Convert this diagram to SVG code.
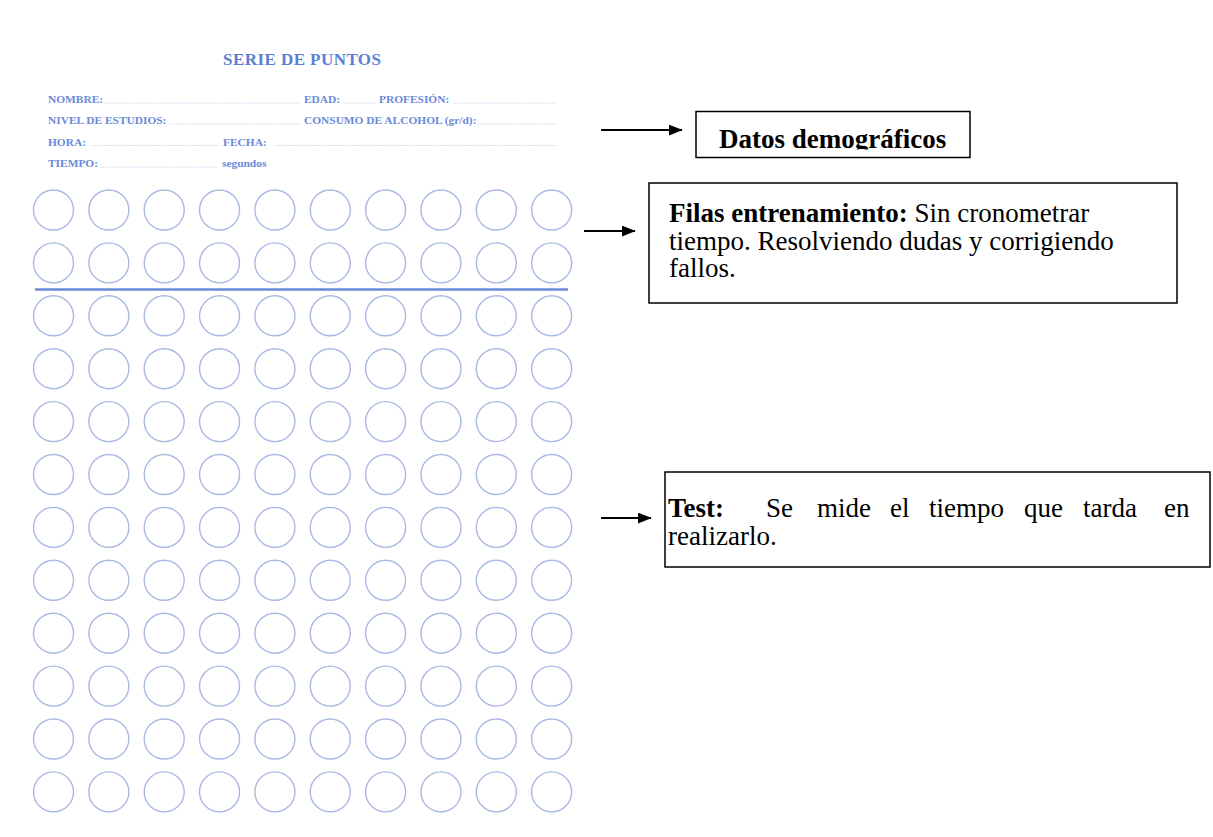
<svg xmlns="http://www.w3.org/2000/svg" xmlns:xlink="http://www.w3.org/1999/xlink" width="1213" height="837" viewBox="0 0 1213 837">
  <style>
    .title { font-family: "Liberation Serif", "Times New Roman", serif; font-weight: bold; font-size: 17px; fill: #5b7fd4; }
    .field { font-family: "Liberation Serif", "Times New Roman", serif; font-weight: bold; font-size: 11.4px; fill: #6a8ad8; }
    .leader { stroke: #b4c0e2; stroke-width: 0.8; stroke-dasharray: 1 1.2; fill: none; }
    .dot { fill: none; stroke: #a9b9e4; stroke-width: 1.4; }
    .divider { stroke: #6a8ad8; stroke-width: 2.4; }
    .box { fill: #ffffff; stroke: #000000; stroke-width: 1.5; }
    .note { font-family: "Liberation Serif", "Times New Roman", serif; font-size: 27px; fill: #000000; }
    .b { font-weight: bold; }
    .arrow { stroke: #000000; stroke-width: 2; fill: none; marker-end: url(#head); }
  </style>
  <defs>
    <marker id="head" viewBox="0 0 10 10" refX="9.5" refY="5" markerWidth="14" markerHeight="11" markerUnits="userSpaceOnUse" orient="auto" preserveAspectRatio="none">
      <path d="M0,0 L10,5 L0,10 Z" fill="#000000"/>
    </marker>
    <!-- one row of ten answer circles -->
    <g id="row">
      <circle class="dot" cx="53.5" cy="0" r="20"/>
      <circle class="dot" cx="108.85" cy="0" r="20"/>
      <circle class="dot" cx="164.2" cy="0" r="20"/>
      <circle class="dot" cx="219.55" cy="0" r="20"/>
      <circle class="dot" cx="274.9" cy="0" r="20"/>
      <circle class="dot" cx="330.25" cy="0" r="20"/>
      <circle class="dot" cx="385.6" cy="0" r="20"/>
      <circle class="dot" cx="440.95" cy="0" r="20"/>
      <circle class="dot" cx="496.3" cy="0" r="20"/>
      <circle class="dot" cx="551.65" cy="0" r="20"/>
    </g>
    <clipPath id="clip-demo">
      <rect x="697" y="112" width="272" height="37.5"/>
    </clipPath>
  </defs>

  <rect width="1213" height="837" fill="#ffffff"/>

  <!-- form header -->
  <g id="form">
    <text class="title" x="223" y="65" textLength="158" lengthAdjust="spacing">SERIE DE PUNTOS</text>

    <text class="field" x="48" y="103">NOMBRE:</text>
    <line class="leader" x1="105" y1="103" x2="301" y2="103"/>
    <text class="field" x="304" y="103">EDAD:</text>
    <line class="leader" x1="344" y1="103" x2="377" y2="103"/>
    <text class="field" x="379" y="103">PROFESIÓN:</text>
    <line class="leader" x1="453" y1="103" x2="557" y2="103"/>

    <text class="field" x="48" y="124">NIVEL DE ESTUDIOS:</text>
    <line class="leader" x1="170" y1="124" x2="302" y2="124"/>
    <text class="field" x="304" y="124">CONSUMO DE ALCOHOL (gr/d):</text>
    <line class="leader" x1="478" y1="124" x2="557" y2="124"/>

    <text class="field" x="48" y="145.5">HORA:</text>
    <line class="leader" x1="93" y1="145.5" x2="219" y2="145.5"/>
    <text class="field" x="223" y="145.5">FECHA:</text>
    <line class="leader" x1="275" y1="145.5" x2="557" y2="145.5"/>

    <text class="field" x="48" y="167">TIEMPO:</text>
    <line class="leader" x1="101" y1="167" x2="218" y2="167"/>
    <text class="field" x="222" y="167">segundos</text>
  </g>

  <!-- answer grid: two practice rows, divider, ten test rows -->
  <g id="grid">
    <use xlink:href="#row" y="210"/>
    <use xlink:href="#row" y="262.9"/>
    <line class="divider" x1="35" y1="289.5" x2="568" y2="289.5"/>
    <use xlink:href="#row" y="315.8"/>
    <use xlink:href="#row" y="368.7"/>
    <use xlink:href="#row" y="421.6"/>
    <use xlink:href="#row" y="474.5"/>
    <use xlink:href="#row" y="527.4"/>
    <use xlink:href="#row" y="580.3"/>
    <use xlink:href="#row" y="633.2"/>
    <use xlink:href="#row" y="686.1"/>
    <use xlink:href="#row" y="739"/>
    <use xlink:href="#row" y="791.9"/>
  </g>

  <g id="connectors">
    <line class="arrow" x1="601" y1="130" x2="682" y2="130"/>
    <line class="arrow" x1="584" y1="231" x2="635" y2="231"/>
    <line class="arrow" x1="601" y1="518" x2="651" y2="518"/>
  </g>

  <g id="demograficos">
    <rect class="box" x="696" y="111.5" width="274" height="46"/>
    <text class="note b" x="719" y="148" font-size="26" clip-path="url(#clip-demo)">Datos demográficos</text>
  </g>

  <g id="entrenamiento">
    <rect class="box" x="649" y="183" width="528" height="120"/>
    <text class="note" x="669" y="222"><tspan class="b">Filas entrenamiento:</tspan> Sin cronometrar</text>
    <text class="note" x="669" y="249.5">tiempo. Resolviendo dudas y corrigiendo</text>
    <text class="note" x="669" y="277">fallos.</text>
  </g>

  <g id="test">
    <rect class="box" x="665" y="472" width="545" height="95"/>
    <text class="note" y="517"><tspan class="b" x="668">Test:</tspan><tspan x="766">Se</tspan><tspan x="817">mide</tspan><tspan x="890">el</tspan><tspan x="929">tiempo</tspan><tspan x="1024">que</tspan><tspan x="1083">tarda</tspan><tspan x="1164">en</tspan></text>
    <text class="note" x="668" y="545">realizarlo.</text>
  </g>
</svg>
